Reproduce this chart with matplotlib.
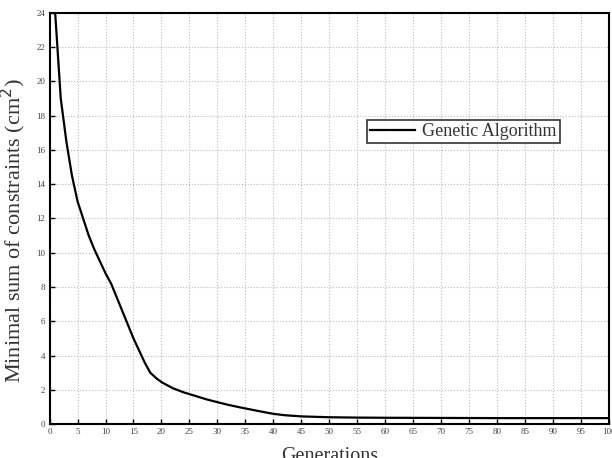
import numpy as np
import matplotlib.pyplot as plt

# best constraint sum per generation
generations = [0, 1, 2, 3, 4, 5, 6, 7, 8, 9, 10, 11, 12, 13, 14, 15, 16, 17, 18,
               19, 20, 22, 24, 26, 28, 30, 32, 34, 36, 38, 40, 42, 45, 50, 55,
               60, 70, 80, 90, 100]
best_sum = [24.0, 24.0, 19.0, 16.5, 14.5, 13.0, 12.0, 11.0, 10.2, 9.5, 8.8,
            8.2, 7.4, 6.6, 5.8, 5.0, 4.3, 3.6, 3.0, 2.7, 2.45, 2.1, 1.85, 1.65,
            1.45, 1.28, 1.12, 0.98, 0.85, 0.72, 0.6, 0.52, 0.45, 0.4, 0.38,
            0.37, 0.36, 0.35, 0.35, 0.35]

plt.rcParams['font.family'] = 'Liberation Serif'

fig = plt.figure(figsize=(6.12, 4.58), dpi=100)
ax = fig.add_axes([0.081, 0.074, 0.914, 0.898])

ax.plot(generations, best_sum, color='black', linewidth=1.6, label='Genetic Algorithm')

ax.set_xlim(0, 100)
ax.set_ylim(0, 24)
ax.set_xticks(np.arange(0, 101, 5))
ax.set_yticks(np.arange(0, 25, 2))
ax.tick_params(labelsize=6.5, direction='in', length=3.5, width=1, pad=3,
               labelcolor='#444444')
ax.grid(True, linestyle=':', color='#bbbbbb', linewidth=0.8)
for s in ax.spines.values():
    s.set_linewidth(1.5)

ax.set_xlabel('Generations', fontsize=14.5, color='#333333', labelpad=8)
ax.set_ylabel('Minimal sum of constraints (cm$^2$)', fontsize=16, color='#333333')
ax.yaxis.set_label_coords(-0.038, 0.47)

leg = ax.legend(loc='upper left', bbox_to_anchor=(0.568, 0.739), fontsize=13,
                frameon=True, fancybox=False, edgecolor='black', borderpad=0.15,
                handlelength=2.5, handletextpad=0.4, borderaxespad=0)
leg.get_frame().set_linewidth(1.2)
for t in leg.get_texts():
    t.set_color('#333333')

plt.savefig('out.png', dpi=100)
